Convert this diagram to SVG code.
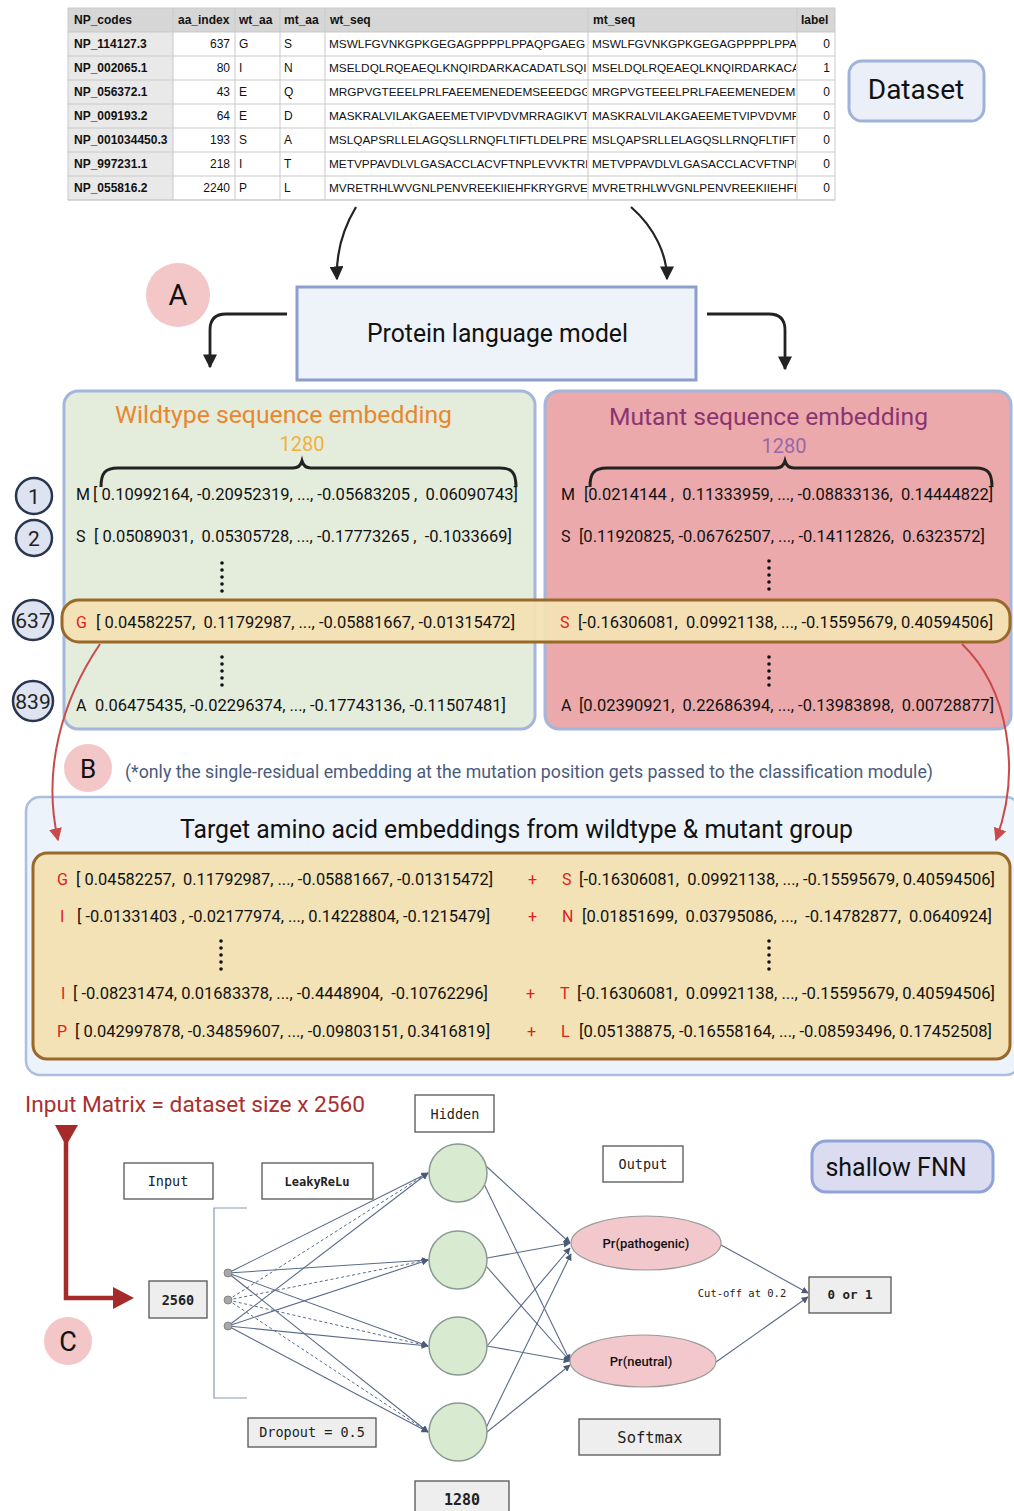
<svg xmlns="http://www.w3.org/2000/svg" width="1014" height="1511" viewBox="0 0 1014 1511">
<style>
.tb{font-family:"Liberation Sans",Arial,sans-serif;font-size:12px;fill:#111}
.tbb{font-family:"Liberation Sans",Arial,sans-serif;font-size:12px;font-weight:bold;fill:#111}
.rb{font-family:Roboto,"Noto Sans",sans-serif;fill:#111}
.emb{font-family:Roboto,"Noto Sans",sans-serif;font-size:16px;fill:#111;white-space:pre}
.red{fill:#e0201c}
.mono{font-family:"DejaVu Sans Mono","Liberation Mono",monospace;fill:#222;text-anchor:middle}
.nbox{fill:#fff;stroke:#555;stroke-width:1.3}
.gbox{fill:#eeeeee;stroke:#555;stroke-width:1.3}
.num{fill:#dde3f0;stroke:#2a3550;stroke-width:2.5}
.numt{font-family:Roboto,"Noto Sans",sans-serif;font-size:21px;fill:#222;text-anchor:middle}
.lbl{fill:#f3c7c7}
.lblt{font-family:Roboto,"Noto Sans",sans-serif;font-size:29px;fill:#111;text-anchor:middle}
.net{stroke:#5a6a88;stroke-width:1.1;fill:none}
.netd{stroke:#5a6a88;stroke-width:1;fill:none;stroke-dasharray:3 2.5}
.hid{fill:#d8eacf;stroke:#8a9a95;stroke-width:1.5}
.outn{fill:#f3c8cc;stroke:#9a9a9a;stroke-width:1.2}
.dot{fill:#111}
</style>
<defs>
<marker id="ab" viewBox="0 0 10 10" refX="9" refY="5" markerWidth="14" markerHeight="14" markerUnits="userSpaceOnUse" orient="auto"><path d="M0,0 L10,5 L0,10 z" fill="#222"/></marker>
<marker id="ar" viewBox="0 0 10 10" refX="9" refY="5" markerWidth="13" markerHeight="13" markerUnits="userSpaceOnUse" orient="auto"><path d="M0,0 L10,5 L0,10 z" fill="#c94a4a"/></marker>
<marker id="an" viewBox="0 0 10 10" refX="9" refY="5" markerWidth="7" markerHeight="7" markerUnits="userSpaceOnUse" orient="auto"><path d="M0,0 L10,5 L0,10 z" fill="#4a5a78"/></marker>
<clipPath id="cw"><rect x="325" y="30" width="262" height="172"/></clipPath>
<clipPath id="cm"><rect x="588" y="30" width="208" height="172"/></clipPath>
</defs>

<!-- Table -->
<g id="dataset-table">
<rect x="68" y="8" width="767" height="192" fill="#fff"/>
<rect x="68" y="8" width="767" height="24" fill="#d6d6d6"/>
<rect x="68" y="32" width="105" height="168" fill="#e9e9e9"/>
<g stroke="#c9c9c9" stroke-width="1">
<line x1="68" y1="32" x2="835" y2="32"/><line x1="68" y1="56" x2="835" y2="56"/><line x1="68" y1="80" x2="835" y2="80"/><line x1="68" y1="104" x2="835" y2="104"/><line x1="68" y1="128" x2="835" y2="128"/><line x1="68" y1="152" x2="835" y2="152"/><line x1="68" y1="176" x2="835" y2="176"/><line x1="68" y1="200" x2="835" y2="200"/>
<line x1="173" y1="8" x2="173" y2="200"/><line x1="235" y1="8" x2="235" y2="200"/><line x1="280" y1="8" x2="280" y2="200"/><line x1="325" y1="8" x2="325" y2="200"/><line x1="588" y1="8" x2="588" y2="200"/><line x1="797" y1="8" x2="797" y2="200"/>
<rect x="68" y="8" width="767" height="192" fill="none"/>
</g>
<text class="tbb" x="74" y="24">NP_codes</text>
<text class="tbb" x="178" y="24">aa_index</text>
<text class="tbb" x="239" y="24">wt_aa</text>
<text class="tbb" x="284" y="24">mt_aa</text>
<text class="tbb" x="330" y="24">wt_seq</text>
<text class="tbb" x="593" y="24">mt_seq</text>
<text class="tbb" x="801" y="24">label</text>
<g class="tbb">
<text x="74" y="48">NP_114127.3</text><text x="74" y="72">NP_002065.1</text><text x="74" y="96">NP_056372.1</text><text x="74" y="120">NP_009193.2</text><text x="74" y="144">NP_001034450.3</text><text x="74" y="168">NP_997231.1</text><text x="74" y="192">NP_055816.2</text>
</g>
<g class="tb" text-anchor="end">
<text x="230" y="48">637</text><text x="230" y="72">80</text><text x="230" y="96">43</text><text x="230" y="120">64</text><text x="230" y="144">193</text><text x="230" y="168">218</text><text x="230" y="192">2240</text>
<text x="830" y="48">0</text><text x="830" y="72">1</text><text x="830" y="96">0</text><text x="830" y="120">0</text><text x="830" y="144">0</text><text x="830" y="168">0</text><text x="830" y="192">0</text>
</g>
<g class="tb">
<text x="239" y="48">G</text><text x="239" y="72">I</text><text x="239" y="96">E</text><text x="239" y="120">E</text><text x="239" y="144">S</text><text x="239" y="168">I</text><text x="239" y="192">P</text>
<text x="284" y="48">S</text><text x="284" y="72">N</text><text x="284" y="96">Q</text><text x="284" y="120">D</text><text x="284" y="144">A</text><text x="284" y="168">T</text><text x="284" y="192">L</text>
</g>
<g class="tb" clip-path="url(#cw)" style="font-size:11.8px">
<text x="329" y="48">MSWLFGVNKGPKGEGAGPPPPLPPAQPGAEG</text>
<text x="329" y="72">MSELDQLRQEAEQLKNQIRDARKACADATLSQI</text>
<text x="329" y="96">MRGPVGTEEELPRLFAEEMENEDEMSEEEDGG</text>
<text x="329" y="120">MASKRALVILAKGAEEMETVIPVDVMRRAGIKVT</text>
<text x="329" y="144">MSLQAPSRLLELAGQSLLRNQFLTIFTLDELPRE</text>
<text x="329" y="168">METVPPAVDLVLGASACCLACVFTNPLEVVKTRL</text>
<text x="329" y="192">MVRETRHLWVGNLPENVREEKIIEHFKRYGRVES</text>
</g>
<g class="tb" clip-path="url(#cm)" style="font-size:11.8px">
<text x="592" y="48">MSWLFGVNKGPKGEGAGPPPPLPPA</text>
<text x="592" y="72">MSELDQLRQEAEQLKNQIRDARKACA</text>
<text x="592" y="96">MRGPVGTEEELPRLFAEEMENEDEMS</text>
<text x="592" y="120">MASKRALVILAKGAEEMETVIPVDVMR</text>
<text x="592" y="144">MSLQAPSRLLELAGQSLLRNQFLTIFTL</text>
<text x="592" y="168">METVPPAVDLVLGASACCLACVFTNPL</text>
<text x="592" y="192">MVRETRHLWVGNLPENVREEKIIEHFK</text>
</g>
</g>

<g id="dataset-label">
<rect x="849" y="61" width="135" height="60" rx="13" fill="#eaeff8" stroke="#9fb3da" stroke-width="3"/>
<text class="rb" x="916" y="99" font-size="28" text-anchor="middle">Dataset</text>
</g>

<g id="plm">
<rect x="297" y="287" width="399" height="93" fill="#eef2f9" stroke="#8a9fcc" stroke-width="3"/>
<text class="rb" x="367" y="342" font-size="25" textLength="261" lengthAdjust="spacingAndGlyphs">Protein language model</text>
</g>

<g id="label-A"><circle class="lbl" cx="178" cy="295" r="32"/><text class="lblt" x="178" y="305">A</text></g>

<!-- Wildtype panel -->
<g id="wildtype-panel">
<rect x="64" y="391" width="471" height="338" rx="14" fill="#e4ecdc" stroke="#a3b6dc" stroke-width="3"/>
<text class="rb" x="115" y="423" font-size="24.5" textLength="337" lengthAdjust="spacingAndGlyphs" style="fill:#e9872e">Wildtype sequence embedding</text>
<text class="rb" x="302" y="451" font-size="20" text-anchor="middle" style="fill:#f0b13f">1280</text>
<path d="M101,487 C101,473 105,468 118,468 L293,468 Q300,468 302,461 Q304,468 311,468 L500,468 C512,468 516,473 516,487" fill="none" stroke="#222" stroke-width="3"/>
<text class="emb" x="76" y="500">M</text><text class="emb" x="93" y="500" textLength="425" lengthAdjust="spacingAndGlyphs">[ 0.10992164, -0.20952319, ..., -0.05683205 ,  0.06090743]</text>
<text class="emb" x="76" y="542">S</text><text class="emb" x="94" y="542" textLength="418" lengthAdjust="spacingAndGlyphs">[ 0.05089031,  0.05305728, ..., -0.17773265 ,  -0.1033669]</text>
<circle class="dot" cx="222" cy="563" r="1.8"/><circle class="dot" cx="222" cy="570" r="1.8"/><circle class="dot" cx="222" cy="577" r="1.8"/><circle class="dot" cx="222" cy="584" r="1.8"/><circle class="dot" cx="222" cy="591" r="1.8"/>
<circle class="dot" cx="222" cy="657" r="1.8"/><circle class="dot" cx="222" cy="664" r="1.8"/><circle class="dot" cx="222" cy="671" r="1.8"/><circle class="dot" cx="222" cy="678" r="1.8"/><circle class="dot" cx="222" cy="685" r="1.8"/>
<text class="emb" x="76" y="711">A</text><text class="emb" x="95" y="711" textLength="411" lengthAdjust="spacingAndGlyphs">0.06475435, -0.02296374, ..., -0.17743136, -0.11507481]</text>
</g>

<!-- Mutant panel -->
<g id="mutant-panel">
<rect x="545" y="391" width="466" height="338" rx="14" fill="#eba9ab" stroke="#a3b6dc" stroke-width="3"/>
<text class="rb" x="609" y="425" font-size="24.5" textLength="319" lengthAdjust="spacingAndGlyphs" style="fill:#8a3472">Mutant sequence embedding</text>
<text class="rb" x="784" y="453" font-size="20" text-anchor="middle" style="fill:#9a68a8">1280</text>
<path d="M590,487 C590,473 594,468 607,468 L776,468 Q783,468 785,461 Q787,468 794,468 L976,468 C988,468 992,473 992,487" fill="none" stroke="#222" stroke-width="3"/>
<text class="emb" x="561" y="500">M</text><text class="emb" x="584" y="500" textLength="409" lengthAdjust="spacingAndGlyphs">[0.0214144 ,  0.11333959, ..., -0.08833136,  0.14444822]</text>
<text class="emb" x="561" y="542">S</text><text class="emb" x="579" y="542" textLength="406" lengthAdjust="spacingAndGlyphs">[0.11920825, -0.06762507, ..., -0.14112826,  0.6323572]</text>
<circle class="dot" cx="769" cy="561" r="1.8"/><circle class="dot" cx="769" cy="568" r="1.8"/><circle class="dot" cx="769" cy="575" r="1.8"/><circle class="dot" cx="769" cy="582" r="1.8"/><circle class="dot" cx="769" cy="589" r="1.8"/>
<circle class="dot" cx="769" cy="657" r="1.8"/><circle class="dot" cx="769" cy="664" r="1.8"/><circle class="dot" cx="769" cy="671" r="1.8"/><circle class="dot" cx="769" cy="678" r="1.8"/><circle class="dot" cx="769" cy="685" r="1.8"/>
<text class="emb" x="561" y="711">A</text><text class="emb" x="579" y="711" textLength="415" lengthAdjust="spacingAndGlyphs">[0.02390921,  0.22686394, ..., -0.13983898,  0.00728877]</text>
</g>

<!-- Highlight bar -->
<g id="mutation-row">
<rect x="62" y="600" width="948" height="42" rx="17" fill="#f3e2b3" fill-opacity="0.95" stroke="#99692a" stroke-width="3"/>
<text class="emb red" x="76" y="628">G</text><text class="emb" x="96" y="628" textLength="419" lengthAdjust="spacingAndGlyphs">[ 0.04582257,  0.11792987, ..., -0.05881667, -0.01315472]</text>
<text class="emb red" x="560" y="628">S</text><text class="emb" x="578" y="628" textLength="415" lengthAdjust="spacingAndGlyphs">[-0.16306081,  0.09921138, ..., -0.15595679, 0.40594506]</text>
</g>

<!-- Index circles -->
<g id="idx-1"><circle class="num" cx="34" cy="496" r="18"/><text class="numt" x="34" y="504">1</text></g>
<g id="idx-2"><circle class="num" cx="34" cy="538" r="18"/><text class="numt" x="34" y="546">2</text></g>
<g id="idx-637"><circle class="num" cx="33" cy="620" r="20"/><text class="numt" x="33" y="628">637</text></g>
<g id="idx-839"><circle class="num" cx="33" cy="701" r="20"/><text class="numt" x="33" y="709">839</text></g>

<g id="label-B"><circle class="lbl" cx="88" cy="768" r="24"/><text class="lblt" x="88" y="778" style="font-size:26px">B</text></g>
<text class="rb" x="125" y="778" font-size="18" textLength="808" lengthAdjust="spacingAndGlyphs" style="fill:#4a5b7c">(*only the single-residual embedding at the mutation position gets passed to the classification module)</text>

<!-- Target box -->
<g id="target-box">
<rect x="26" y="797" width="994" height="278" rx="14" fill="#edf3fa" stroke="#a9bee0" stroke-width="2.5"/>
<text class="rb" x="180" y="838" font-size="26" textLength="673" lengthAdjust="spacingAndGlyphs">Target amino acid embeddings from wildtype &amp; mutant group</text>
<rect x="33" y="853" width="977" height="206" rx="14" fill="#f2e2b5" stroke="#99692a" stroke-width="3"/>
<text class="emb red" x="57" y="885">G</text><text class="emb" x="76" y="885" textLength="417" lengthAdjust="spacingAndGlyphs">[ 0.04582257,  0.11792987, ..., -0.05881667, -0.01315472]</text>
<text class="emb red" x="60" y="922">I</text><text class="emb" x="77" y="922" textLength="413" lengthAdjust="spacingAndGlyphs">[ -0.01331403 , -0.02177974, ..., 0.14228804, -0.1215479]</text>
<text class="emb red" x="61" y="999">I</text><text class="emb" x="73" y="999" textLength="415" lengthAdjust="spacingAndGlyphs">[ -0.08231474, 0.01683378, ..., -0.4448904,  -0.10762296]</text>
<text class="emb red" x="57" y="1037">P</text><text class="emb" x="75" y="1037" textLength="415" lengthAdjust="spacingAndGlyphs">[ 0.042997878, -0.34859607, ..., -0.09803151, 0.3416819]</text>
<text class="emb red" x="528" y="885">+</text><text class="emb red" x="562" y="885">S</text><text class="emb" x="579" y="885" textLength="416" lengthAdjust="spacingAndGlyphs">[-0.16306081,  0.09921138, ..., -0.15595679, 0.40594506]</text>
<text class="emb red" x="528" y="922">+</text><text class="emb red" x="562" y="922">N</text><text class="emb" x="582" y="922" textLength="410" lengthAdjust="spacingAndGlyphs">[0.01851699,  0.03795086, ...,  -0.14782877,  0.0640924]</text>
<text class="emb red" x="526" y="999">+</text><text class="emb red" x="560" y="999">T</text><text class="emb" x="577" y="999" textLength="418" lengthAdjust="spacingAndGlyphs">[-0.16306081,  0.09921138, ..., -0.15595679, 0.40594506]</text>
<text class="emb red" x="527" y="1037">+</text><text class="emb red" x="561" y="1037">L</text><text class="emb" x="579" y="1037" textLength="413" lengthAdjust="spacingAndGlyphs">[0.05138875, -0.16558164, ..., -0.08593496, 0.17452508]</text>
<circle class="dot" cx="221" cy="941" r="1.8"/><circle class="dot" cx="221" cy="948" r="1.8"/><circle class="dot" cx="221" cy="955" r="1.8"/><circle class="dot" cx="221" cy="962" r="1.8"/><circle class="dot" cx="221" cy="969" r="1.8"/>
<circle class="dot" cx="769" cy="941" r="1.8"/><circle class="dot" cx="769" cy="948" r="1.8"/><circle class="dot" cx="769" cy="955" r="1.8"/><circle class="dot" cx="769" cy="962" r="1.8"/><circle class="dot" cx="769" cy="969" r="1.8"/>
</g>

<!-- Section C -->
<text class="rb" x="25" y="1112" font-size="22" textLength="340" lengthAdjust="spacingAndGlyphs" style="fill:#a8302f">Input Matrix = dataset size x 2560</text>
<g id="label-C"><circle class="lbl" cx="68" cy="1341" r="24"/><text class="lblt" x="68" y="1351" style="font-size:27px">C</text></g>

<g id="box-input"><rect class="nbox" x="124" y="1163" width="89" height="36"/><text class="mono" x="168" y="1186" font-size="13.5">Input</text></g>
<g id="box-leaky"><rect class="nbox" x="262" y="1163" width="111" height="36"/><text class="mono" x="317" y="1186" font-size="12" font-weight="bold">LeakyReLu</text></g>
<g id="box-hidden"><rect class="nbox" x="415" y="1095" width="79" height="37"/><text class="mono" x="455" y="1119" font-size="13.5">Hidden</text></g>
<g id="box-output"><rect class="nbox" x="603" y="1146" width="80" height="36"/><text class="mono" x="643" y="1169" font-size="13.5">Output</text></g>
<g id="box-2560"><rect class="gbox" x="149" y="1281" width="58" height="37"/><text class="mono" x="178" y="1305" font-size="13.5" font-weight="bold">2560</text></g>
<g id="box-dropout"><rect class="gbox" x="248" y="1418" width="128" height="29"/><text class="mono" x="312" y="1437" font-size="13.5">Dropout = 0.5</text></g>
<g id="box-1280"><rect class="gbox" x="415" y="1481" width="94" height="34"/><text class="mono" x="462" y="1505" font-size="15" font-weight="bold">1280</text></g>
<g id="box-softmax"><rect class="gbox" x="579" y="1419" width="141" height="36"/><text class="mono" x="650" y="1443" font-size="15.5">Softmax</text></g>
<g id="box-01"><rect class="gbox" x="809" y="1277" width="82" height="36"/><text class="mono" x="850" y="1299" font-size="12.5" font-weight="bold">0 or 1</text></g>
<g id="shallow-fnn">
<rect x="812" y="1141" width="181" height="51" rx="14" fill="#dcdcf0" stroke="#8fa3d9" stroke-width="3"/>
<text class="rb" x="896" y="1176" font-size="25" text-anchor="middle">shallow FNN</text>
</g>

<!-- Connectors -->
<g id="connectors">
<path d="M356,207 C341,232 336,255 337,279" fill="none" stroke="#222" stroke-width="2.2" marker-end="url(#ab)"/>
<path d="M631,207 C655,228 667,255 667,279" fill="none" stroke="#222" stroke-width="2.2" marker-end="url(#ab)"/>
<path d="M287,314 L226,314 Q210,314 210,330 L210,367" fill="none" stroke="#222" stroke-width="2.8" marker-end="url(#ab)"/>
<path d="M707,314 L769,314 Q785,314 785,330 L785,369" fill="none" stroke="#222" stroke-width="2.8" marker-end="url(#ab)"/>
<path d="M100,644 C62,700 42,770 58,840" fill="none" stroke="#c94a4a" stroke-width="2" marker-end="url(#ar)"/>
<path d="M962,644 C1008,688 1022,770 996,840" fill="none" stroke="#c94a4a" stroke-width="2" marker-end="url(#ar)"/>
<path d="M66,1142 L66,1298 L117,1298" fill="none" stroke="#a52a2a" stroke-width="4.5"/>
<path d="M55,1125 L78,1125 L66,1146 z" fill="#a52a2a"/>
<path d="M113,1287 L134,1298 L113,1309 z" fill="#a52a2a"/>
<path d="M247,1208 L214,1208 L214,1398 L247,1398" fill="none" stroke="#8a9ab0" stroke-width="1.2"/>
<path class="net" d="M228,1273 L428,1173" marker-end="url(#an)"/>
<path class="net" d="M228,1273 L428,1260" marker-end="url(#an)"/>
<path class="net" d="M228,1273 L428,1346" marker-end="url(#an)"/>
<path class="net" d="M228,1273 L428,1432" marker-end="url(#an)"/>
<path class="netd" d="M228,1300 L428,1173"/>
<path class="netd" d="M228,1300 L428,1260"/>
<path class="netd" d="M228,1300 L428,1346"/>
<path class="netd" d="M228,1300 L428,1432"/>
<path class="net" d="M228,1326 L428,1173" marker-end="url(#an)"/>
<path class="net" d="M228,1326 L428,1260" marker-end="url(#an)"/>
<path class="net" d="M228,1326 L428,1346" marker-end="url(#an)"/>
<path class="net" d="M228,1326 L428,1432" marker-end="url(#an)"/>
<path class="net" d="M486,1166 L570,1243" marker-end="url(#an)"/>
<path class="net" d="M484,1184 L570,1361" marker-end="url(#an)"/>
<path class="net" d="M487,1258 L570,1243" marker-end="url(#an)"/>
<path class="net" d="M486,1266 L570,1361" marker-end="url(#an)"/>
<path class="net" d="M487,1346 L570,1248" marker-end="url(#an)"/>
<path class="net" d="M487,1346 L570,1361" marker-end="url(#an)"/>
<path class="net" d="M486,1428 L571,1254" marker-end="url(#an)"/>
<path class="net" d="M487,1432 L570,1365" marker-end="url(#an)"/>
<path class="net" d="M721,1245 L808,1293" marker-end="url(#an)"/>
<path class="net" d="M716,1362 L808,1297" stroke-width="1.6" marker-end="url(#an)"/>
<text class="mono" x="742" y="1297" font-size="10.5">Cut-off at 0.2</text>
</g>

<!-- Network nodes -->
<g id="input-nodes">
<circle cx="228" cy="1273" r="4" fill="#a8a8a8" stroke="#777" stroke-width="0.8"/>
<circle cx="228" cy="1300" r="4" fill="#a8a8a8" stroke="#777" stroke-width="0.8"/>
<circle cx="228" cy="1326" r="4" fill="#a8a8a8" stroke="#777" stroke-width="0.8"/>
</g>
<g id="hidden-1"><circle class="hid" cx="458" cy="1173" r="29"/></g>
<g id="hidden-2"><circle class="hid" cx="458" cy="1260" r="29"/></g>
<g id="hidden-3"><circle class="hid" cx="458" cy="1346" r="29"/></g>
<g id="hidden-4"><circle class="hid" cx="458" cy="1432" r="29"/></g>
<g id="out-pathogenic"><ellipse class="outn" cx="646" cy="1243" rx="75" ry="27"/><text class="rb" x="646" y="1248" font-size="13" font-weight="500" text-anchor="middle">Pr(pathogenic)</text></g>
<g id="out-neutral"><ellipse class="outn" cx="643" cy="1361" rx="73" ry="26"/><text class="rb" x="641" y="1366" font-size="13" font-weight="500" text-anchor="middle">Pr(neutral)</text></g>
</svg>
